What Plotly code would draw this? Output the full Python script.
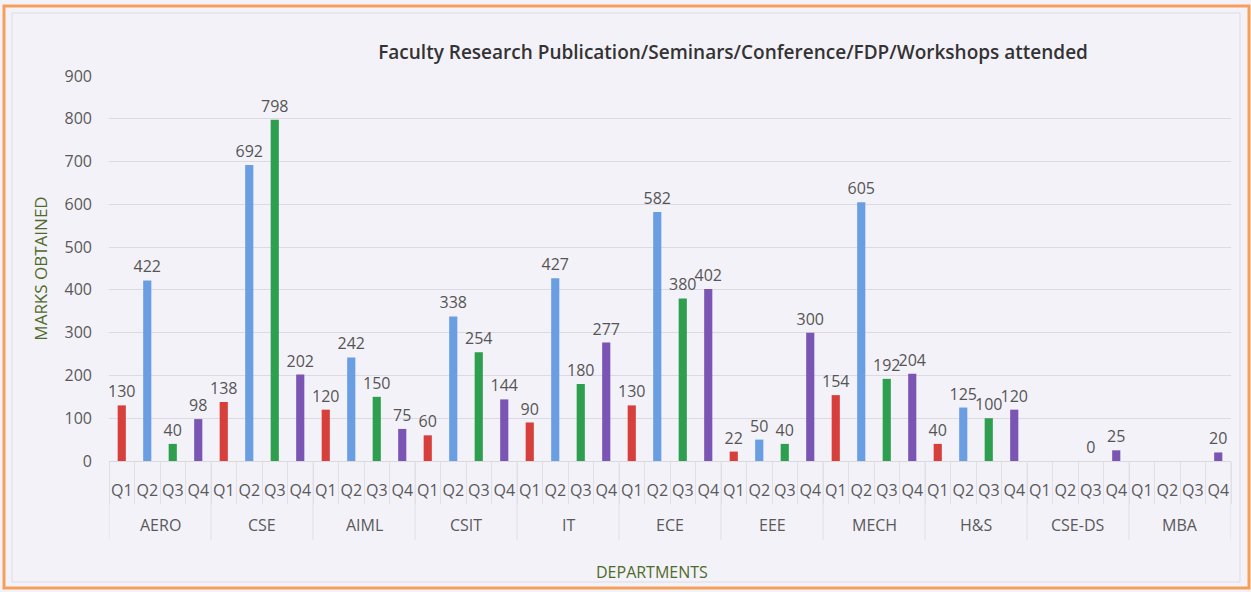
import plotly.graph_objects as go

departments = ["AERO", "CSE", "AIML", "CSIT", "IT", "ECE", "EEE", "MECH", "H&S", "CSE-DS", "MBA"]
quarters = ["Q1", "Q2", "Q3", "Q4"]
q1 = [130, 138, 120, 60, 90, 130, 22, 154, 40, None, None]
q2 = [422, 692, 242, 338, 427, 582, 50, 605, 125, None, None]
q3 = [40, 798, 150, 254, 180, 380, 40, 192, 100, 0, None]
q4 = [98, 202, 75, 144, 277, 402, 300, 204, 120, 25, 20]
colors = ["#d63f3c", "#6a9ee3", "#2e9e4f", "#7b55b3"]

series = [q1, q2, q3, q4]
cats = [f"{d} {q}" for d in departments for q in quarters]
ticktext = [q for _ in departments for q in quarters]

PW, PH, L, T = 1122, 385, 109, 76  # plot area size / offsets in px


def py(px):  # pixel y -> paper y
    return 1 - (px - T) / PH


def px_(p):  # pixel x -> paper x
    return (p - L) / PW


fig = go.Figure()
for qi, (qname, vals) in enumerate(zip(quarters, series)):
    ys, txt = [], []
    for d_i in range(len(departments)):
        for qj in range(4):
            if qj == qi:
                v = vals[d_i]
                ys.append(v)
                txt.append("" if v is None else str(v))
            else:
                ys.append(None)
                txt.append("")
    fig.add_trace(go.Bar(
        x=cats, y=ys, name=qname,
        marker=dict(color=colors[qi], line=dict(width=0)),
        width=0.32,
        text=txt, textposition="outside", cliponaxis=False, constraintext="none",
        textfont=dict(size=16, color="#555555", family="Open Sans"),
        showlegend=False,
    ))

fig.update_layout(
    width=1251, height=592,
    barmode="overlay",
    paper_bgcolor="#f4f2f9", plot_bgcolor="#f4f2f9",
    margin=dict(l=L, r=1251 - L - PW, t=T, b=592 - T - PH),
    font=dict(family="Open Sans", color="#595959", size=14),
    title=dict(text="Faculty Research Publication/Seminars/Conference/FDP/Workshops attended",
               x=0.586, xanchor="center", y=1 - 52 / 592, yanchor="middle",
               font=dict(size=19, color="#333333", family="Open Sans", weight=600)),
)
fig.update_yaxes(
    range=[0, 900], dtick=100, showgrid=True, gridcolor="#dcdae0", gridwidth=1,
    zeroline=False, showline=False, ticks="", ticklabelstandoff=16,
    tickfont=dict(size=16, color="#595959"),
    title=dict(text="MARKS OBTAINED", font=dict(size=17, color="#4f6b2a"), standoff=12),
)
fig.update_xaxes(
    type="category", categoryorder="array", categoryarray=cats,
    tickmode="array", tickvals=cats, ticktext=ticktext,
    tickangle=0, showgrid=False,
    showline=True, linecolor="#d9d9d9", linewidth=1,
    ticks="outside", tickson="boundaries", ticklen=42, tickcolor="#e0dee6", tickwidth=1,
    ticklabelstandoff=15,
    tickfont=dict(size=16, color="#595959"),
    range=[-0.5, len(cats) - 0.5],
)

# department group labels and group dividers
for i, d in enumerate(departments):
    fig.add_annotation(x=4 * i + 1.5, xref="x", y=py(525), yref="paper",
                       text=d, showarrow=False, yanchor="middle",
                       font=dict(size=16, color="#595959"))
    fig.add_shape(type="line", xref="x", yref="paper",
                  x0=4 * i - 0.5, x1=4 * i - 0.5, y0=py(461), y1=py(540),
                  line=dict(color="#e0dee6", width=1))
fig.add_shape(type="line", xref="x", yref="paper",
              x0=len(cats) - 0.5, x1=len(cats) - 0.5, y0=py(461), y1=py(540),
              line=dict(color="#e0dee6", width=1))

fig.add_annotation(x=px_(652), xref="paper", y=py(572), yref="paper",
                   text="DEPARTMENTS", showarrow=False, yanchor="middle",
                   font=dict(size=16, color="#4f6b2a"))

# outer scan border and inner chart-area border
fig.add_shape(type="rect", xref="paper", yref="paper",
              x0=px_(4), x1=px_(1249), y0=py(588), y1=py(6),
              line=dict(color="#f5a05a", width=3), layer="below")
fig.add_shape(type="rect", xref="paper", yref="paper",
              x0=px_(12), x1=px_(1240), y0=py(582), y1=py(13),
              line=dict(color="#dddbe2", width=1), layer="below")

fig.write_html("out.html", config={"displayModeBar": False},
               post_script="document.body.style.margin='0';document.body.style.overflow='hidden';")
